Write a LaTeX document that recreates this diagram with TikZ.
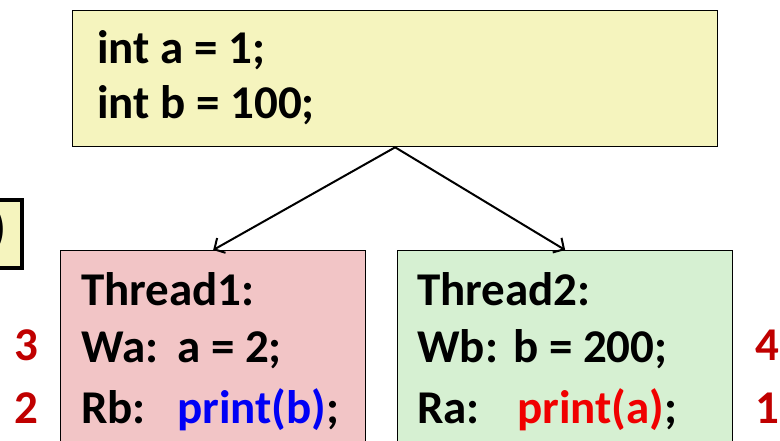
\documentclass[tikz,border=0pt]{standalone}
\usepackage{fontspec}
\setmainfont{Carlito}
\usepackage{xcolor}
\usepackage{tikz}
\usetikzlibrary{arrows.meta}
\definecolor{boxyellow}{HTML}{F5F4BE}
\definecolor{boxpink}{HTML}{F2C5C6}
\definecolor{boxgreen}{HTML}{D6F0D2}
\definecolor{printblue}{HTML}{0000F5}
\definecolor{printred}{HTML}{F00000}
\definecolor{ordred}{HTML}{C00000}
\tikzstyle{block} = [rectangle, anchor=north west, inner sep=0pt, draw=black, line width=1.3pt]
\tikzstyle{code} = [anchor=base west, inner sep=0pt, font=\fontsize{47}{56}\selectfont\bfseries]
\tikzstyle{order} = [anchor=base, inner sep=0pt, text=ordred, font=\fontsize{47}{56}\selectfont\bfseries]
\tikzstyle{arrow} = [line width=2pt, -{Straight Barb[length=8pt,width=17pt]}]

\begin{document}
\begin{tikzpicture}[x=1pt, y=-1pt]
        \useasboundingbox (0,0) rectangle (780,440);
        \node (init) [block, fill=boxyellow, minimum width=645pt, minimum height=136pt] at (72,10) {};
        \node (th1) [block, fill=boxpink, minimum width=305pt, minimum height=230pt] at (60,250) {};
        \node (th2) [block, fill=boxgreen, minimum width=335pt, minimum height=230pt] at (397,250) {};
        \node (tag) [block, fill=boxyellow, line width=3.5pt, minimum width=60pt, minimum height=68pt] at (-40,198) {};
        \node (tagtxt) [code, anchor=base east] at (6,243) {(b)};

        \node (ia) [code] at (97,63) {int a = 1;};
        \node (ib) [code] at (97,118) {int b = 100;};

        \node (t1) [code] at (81,305) {Thread1:};
        \node (wa) [code] at (81,362) {\makebox[96pt][l]{Wa:}a = 2;};
        \node (rb) [code] at (81,423) {\makebox[96pt][l]{Rb:}\textcolor{printblue}{print(b)};};

        \node (t2) [code] at (417,305) {Thread2:};
        \node (wb) [code] at (417,362) {\makebox[96pt][l]{Wb:}b = 200;};
        \node (ra) [code] at (417,423) {\makebox[100pt][l]{Ra:}\textcolor{printred}{print(a)};};

        \node (o3) [order] at (26,360) {3};
        \node (o2) [order] at (26,423) {2};
        \node (o4) [order] at (767,360) {4};
        \node (o1) [order] at (767,423) {1};

        \draw [arrow] (init.south) -- (th1.north);
        \draw [arrow] (init.south) -- (th2.north);
\end{tikzpicture}
\end{document}
